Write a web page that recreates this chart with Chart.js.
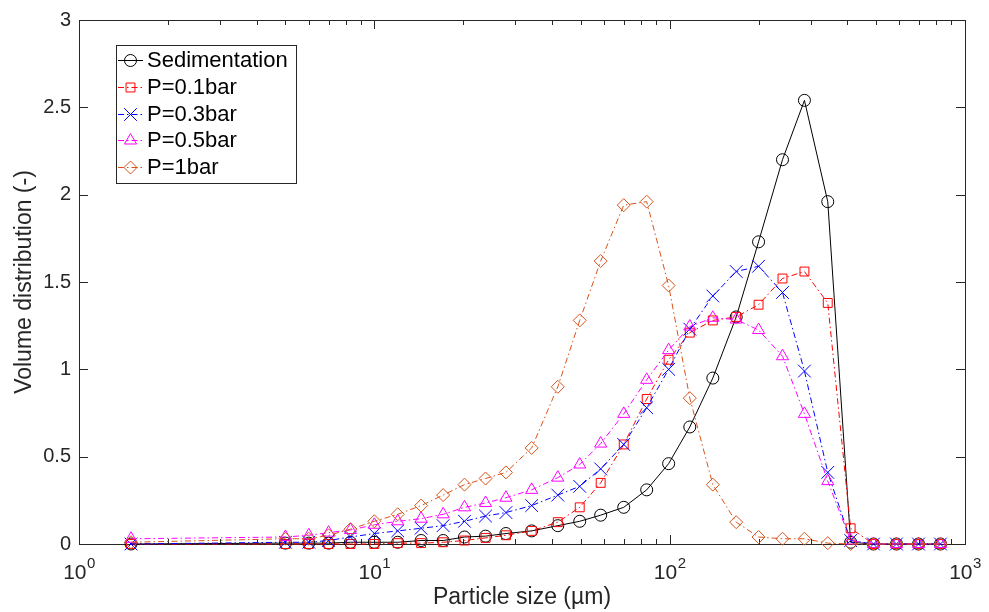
<!DOCTYPE html>
<html>
<head>
<meta charset="utf-8">
<script src="https://cdn.jsdelivr.net/npm/chart.js@4/dist/chart.umd.min.js"></script>
<style>html,body{margin:0;padding:0;background:#fff;}</style>
</head>
<body>
<canvas id="c" width="989" height="612"></canvas>
<script>
// ---- data ----
const particleSize = [1.5, 5, 6, 7, 8.3, 10, 12, 14.4, 17.1, 20.2, 23.8, 27.9, 34.1, 41.8, 49.6, 58.4, 69.9, 83.6, 99.2, 117, 140, 168, 200, 241, 286, 343, 410, 490, 586, 696, 826];
const sedimentation = [0, 0.005, 0.005, 0.005, 0.01, 0.01, 0.01, 0.02, 0.02, 0.04, 0.045, 0.06, 0.075, 0.105, 0.13, 0.165, 0.21, 0.31, 0.46, 0.67, 0.95, 1.30, 1.73, 2.20, 2.54, 1.96, 0.01, 0, 0, 0, 0];
const p01bar = [0, 0, 0, 0, 0, 0, 0.005, 0.005, 0.01, 0.02, 0.035, 0.05, 0.075, 0.125, 0.21, 0.35, 0.57, 0.83, 1.055, 1.21, 1.28, 1.30, 1.37, 1.52, 1.56, 1.38, 0.09, 0, 0, 0, 0];
const p03bar = [0, 0.01, 0.01, 0.02, 0.04, 0.06, 0.075, 0.09, 0.105, 0.13, 0.16, 0.18, 0.22, 0.28, 0.33, 0.43, 0.57, 0.78, 1.00, 1.23, 1.42, 1.56, 1.59, 1.44, 0.99, 0.41, 0.02, 0, 0, 0, 0];
const p05bar = [0.03, 0.04, 0.05, 0.065, 0.08, 0.11, 0.13, 0.145, 0.17, 0.21, 0.235, 0.265, 0.31, 0.38, 0.455, 0.575, 0.745, 0.94, 1.11, 1.245, 1.295, 1.285, 1.225, 1.075, 0.745, 0.36, 0.02, 0, 0, 0, 0];
const p1bar = [0.01, 0.03, 0.03, 0.05, 0.085, 0.13, 0.17, 0.22, 0.28, 0.34, 0.375, 0.41, 0.55, 0.90, 1.28, 1.62, 1.94, 1.96, 1.48, 0.835, 0.34, 0.125, 0.04, 0.03, 0.03, 0.005, 0, 0, 0, 0, 0];
const seriesLabels = ['Sedimentation', 'P=0.1bar', 'P=0.3bar', 'P=0.5bar', 'P=1bar'];
const yTickValues = [0, 0.5, 1, 1.5, 2, 2.5, 3];
const yTickLabels = ['0', '0.5', '1', '1.5', '2', '2.5', '3'];
const xTickValues = [1, 10, 100, 1000];
const xTickExponents = ['0', '1', '2', '3'];
const xTitle = 'Particle size (\u00B5m)';
const yTitle = 'Volume distribution (-)';

// ---- styles ----
const FONT = '"Liberation Sans", Arial, sans-serif';
const AX = '#262626';
const DASHDOT = [6, 3, 1.5, 3];
const styles = [
  {color: '#000000', point: 'circle',   r: 6,   dash: []},
  {color: '#ff0000', point: 'rect',     r: 6.3, dash: DASHDOT},
  {color: '#0000ff', point: 'crossRot', r: 9,   dash: DASHDOT},
  {color: '#ff00ff', point: 'triangle', r: 7,   dash: DASHDOT},
  {color: '#d95319', point: 'rectRot',  r: 6.5, dash: DASHDOT}
];
const seriesValues = [sedimentation, p01bar, p03bar, p05bar, p1bar];

const datasets = seriesValues.map((ys, i) => ({
  label: seriesLabels[i],
  data: particleSize.map((x, k) => ({x: x, y: ys[k]})),
  borderColor: styles[i].color,
  borderWidth: 1,
  borderDash: styles[i].dash,
  pointStyle: styles[i].point,
  pointRadius: styles[i].r,
  pointHoverRadius: styles[i].r,
  pointBorderColor: styles[i].color,
  pointBackgroundColor: 'rgba(0,0,0,0)',
  pointBorderWidth: 1,
  tension: 0,
  fill: false,
  clip: false,
  order: seriesValues.length - i
}));

const framePlugin = {
  id: 'frame',
  beforeDatasetsDraw(chart) {
    const {ctx, chartArea: a, scales: {x, y}} = chart;
    ctx.save();
    ctx.strokeStyle = AX;
    ctx.lineWidth = 1;
    ctx.beginPath();
    yTickValues.forEach(v => {
      const py = Math.round(y.getPixelForValue(v)) + 0.5;
      ctx.moveTo(a.left, py); ctx.lineTo(a.left + 9, py);
      ctx.moveTo(a.right, py); ctx.lineTo(a.right - 9, py);
    });
    x.ticks.forEach(t => {
      const v = t.value;
      const lg = Math.log10(v);
      const major = Math.abs(lg - Math.round(lg)) < 1e-9;
      const len = major ? 9 : 5;
      const px = Math.round(x.getPixelForValue(v)) + 0.5;
      ctx.moveTo(px, a.bottom); ctx.lineTo(px, a.bottom - len);
      ctx.moveTo(px, a.top); ctx.lineTo(px, a.top + len);
    });
    ctx.stroke();
    ctx.strokeRect(Math.round(a.left) + 0.5, Math.round(a.top) + 0.5, Math.round(a.right - a.left), Math.round(a.bottom - a.top));
    ctx.fillStyle = AX;
    ctx.textBaseline = 'alphabetic';
    ctx.textAlign = 'left';
    xTickValues.forEach((v, i) => {
      const px = x.getPixelForValue(v);
      ctx.font = '21px ' + FONT;
      const w1 = ctx.measureText('10').width;
      ctx.font = '15px ' + FONT;
      const w2 = ctx.measureText(xTickExponents[i]).width;
      const start = px - (w1 + w2) / 2;
      ctx.font = '21px ' + FONT;
      ctx.fillText('10', start, a.bottom + 35);
      ctx.font = '15px ' + FONT;
      ctx.fillText(xTickExponents[i], start + w1 + 0.5, a.bottom + 24);
    });
    ctx.restore();
  },
  afterDraw(chart) {
    const {ctx} = chart;
    const bx = 116, by = 45, bw = 180, bh = 138;
    ctx.save();
    ctx.fillStyle = '#ffffff';
    ctx.fillRect(bx, by, bw, bh);
    ctx.strokeStyle = AX;
    ctx.lineWidth = 1;
    ctx.strokeRect(bx + 0.5, by + 0.5, bw, bh);
    chart.data.datasets.forEach((ds, i) => {
      const cy = 60 + i * 26.8;
      ctx.save();
      ctx.strokeStyle = ds.borderColor;
      ctx.lineWidth = 1;
      ctx.setLineDash(ds.borderDash);
      ctx.beginPath();
      ctx.moveTo(118, Math.round(cy) + 0.5);
      ctx.lineTo(143, Math.round(cy) + 0.5);
      ctx.stroke();
      ctx.restore();
      ctx.save();
      ctx.setLineDash([]);
      ctx.strokeStyle = ds.pointBorderColor;
      ctx.fillStyle = 'rgba(0,0,0,0)';
      ctx.lineWidth = 1;
      Chart.helpers.drawPoint(ctx, {pointStyle: ds.pointStyle, radius: ds.pointRadius, rotation: 0, borderWidth: 1}, 130.5, Math.round(cy) + 0.5);
      ctx.restore();
      ctx.fillStyle = '#000000';
      ctx.font = '22px ' + FONT;
      ctx.textBaseline = 'middle';
      ctx.textAlign = 'left';
      ctx.fillText(ds.label, 147, cy + 1);
    });
    ctx.restore();
  }
};

new Chart(document.getElementById('c'), {
  type: 'line',
  data: {datasets: datasets},
  options: {
    responsive: false,
    animation: false,
    events: [],
    layout: {padding: {left: 0, right: 24, top: 19, bottom: 0}},
    plugins: {legend: {display: false}, tooltip: {enabled: false}},
    scales: {
      x: {
        type: 'logarithmic',
        min: 1, max: 1000,
        position: 'bottom',
        grid: {display: false, drawTicks: false},
        border: {display: false},
        ticks: {display: false},
        afterBuildTicks(scale) {
          const t = [];
          for (let d = 0; d < xTickValues.length - 1; d++) {
            for (let m = 1; m <= 9; m++) t.push({value: xTickValues[d] * m});
          }
          t.push({value: xTickValues[xTickValues.length - 1]});
          scale.ticks = t;
        },
        title: {display: true, text: xTitle, color: AX, font: {family: FONT, size: 23}, padding: {top: 0, bottom: 1}},
        afterFit(scale) { scale.height = 68; }
      },
      y: {
        type: 'linear',
        min: 0, max: 3,
        grid: {display: false, drawTicks: false},
        border: {display: false},
        afterBuildTicks(scale) { scale.ticks = yTickValues.map(v => ({value: v})); },
        ticks: {
          color: AX, padding: 8, font: {family: FONT, size: 20},
          callback: (v) => { const k = yTickValues.indexOf(v); return k >= 0 ? yTickLabels[k] : ''; }
        },
        title: {display: true, text: yTitle, color: AX, font: {family: FONT, size: 23}, padding: {top: 11, bottom: 0}},
        afterFit(scale) { scale.width = 79; }
      }
    }
  },
  plugins: [framePlugin]
});
</script>
</body>
</html>
